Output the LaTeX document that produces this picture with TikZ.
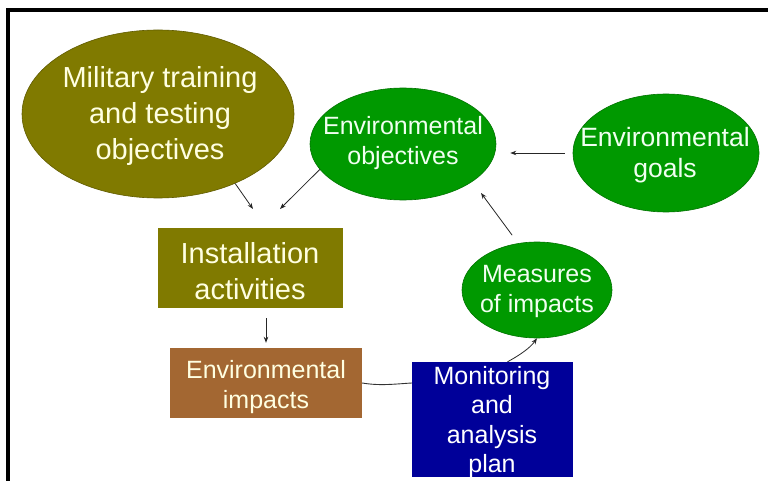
\documentclass[tikz,border=0pt]{standalone}
\usepackage{fontspec}
\setmainfont{Liberation Sans}
\usetikzlibrary{shapes.geometric,arrows.meta}
\definecolor{olivef}{RGB}{128,122,0}
\definecolor{greenf}{RGB}{0,153,0}
\definecolor{brownf}{RGB}{163,103,50}
\definecolor{bluef}{RGB}{0,0,153}
\definecolor{cream}{RGB}{255,255,225}
\definecolor{paleg}{RGB}{240,255,240}
\begin{document}
\begin{tikzpicture}[x=1pt,y=-1pt,
  ell/.style={ellipse, inner sep=0pt, draw=#1!75!black, line width=0.6pt, fill=#1},
  box/.style={rectangle, inner sep=0pt, fill=#1},
  lbl/.style={inner sep=0pt, align=center},
  big/.style={font=\fontsize{29}{36}\selectfont},
  med/.style={font=\fontsize{25}{30}\selectfont},
  arr/.style={-{Stealth[length=6pt,width=4.5pt]}, line width=0.8pt, draw=black!85},
  ln/.style={line width=0.9pt, draw=black!80}]
\useasboundingbox (0,0) rectangle (768,481);
% frame
\draw[line width=4pt, line join=miter] (8,481) -- (8,10) -- (768,10);
% shapes
\node[ell=olivef, minimum width=272pt, minimum height=168pt] (mil) at (158,114) {};
\node[ell=greenf, minimum width=186pt, minimum height=112pt] (obj) at (403,144) {};
\node[ell=greenf, minimum width=186pt, minimum height=118pt] (goals) at (666,153) {};
\node[ell=greenf, minimum width=150pt, minimum height=96pt] (meas) at (537,290) {};
\node[box=olivef, minimum width=185pt, minimum height=80pt] (inst) at (250.5,268) {};
\node[box=brownf, minimum width=192pt, minimum height=70pt] (imp) at (266,383) {};
\node[box=bluef, minimum width=161pt, minimum height=115pt] (mon) at (492.5,419.5) {};
% texts
\node[lbl, big, text=cream] (milt) at (160,116) {Military training\\and testing\\objectives};
\node[lbl, med, text=paleg] (objt) at (403,143) {Environmental\\objectives};
\node[lbl, text=paleg, font=\fontsize{26.5}{31}\selectfont] (goalst) at (665,155) {Environmental\\goals};
\node[lbl, med, text=paleg] (meast) at (537,291) {Measures\\of impacts};
\node[lbl, big, text=cream] (instt) at (250,271) {Installation\\activities};
\node[lbl, med, text=cream] (impt) at (266,387) {Environmental\\impacts};
\node[lbl, med, text=white, font=\fontsize{25}{29.5}\selectfont] (mont) at (492,422) {Monitoring\\and\\analysis\\plan};
% free ends
\coordinate (e1) at (253,209);
\coordinate (e2) at (280,209);
\coordinate (e4) at (481,193);
% connectors
\draw[arr] (mil.-42) -- (e1);
\draw[arr] (obj.197) -- (e2);
\draw[arr, shorten <=8pt, shorten >=14pt] (goals.west) -- (obj.east |- goals.west);
\draw[arr, shorten <=10pt] (meas.112) -- (e4);
\draw[arr, shorten <=10pt, shorten >=5pt] (inst.south -| imp.north) -- (imp.north);
\draw[ln] (imp.east) .. controls (380,386) and (395,384) .. (mon.west |- imp.east);
\draw[arr] ([xshift=15pt]mon.north) .. controls (520,355) and (530,348) .. (meas.south);
\end{tikzpicture}
\end{document}
